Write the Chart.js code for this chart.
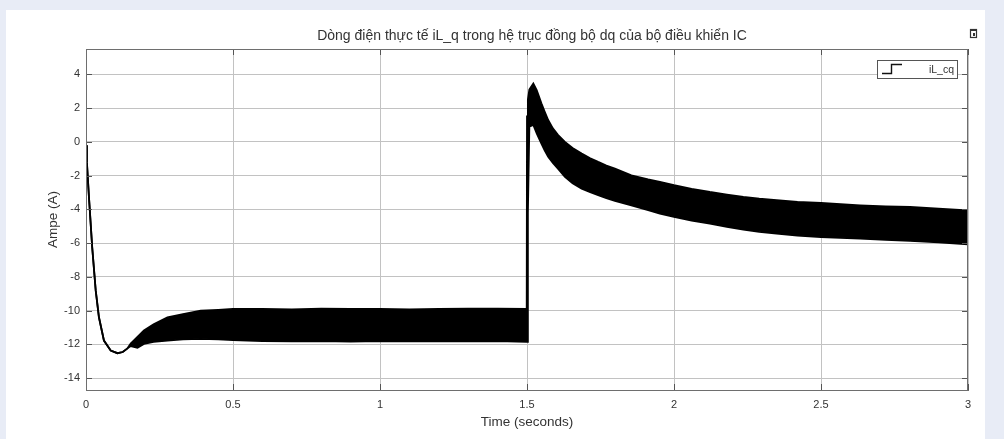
<!DOCTYPE html>
<html>
<head>
<meta charset="utf-8">
<title>iL_q</title>
<script src="https://cdn.jsdelivr.net/npm/chart.js@4.4.1/dist/chart.umd.min.js"></script>
<style>
    html, body { margin: 0; padding: 0; width: 1004px; height: 439px; overflow: hidden; background: #e8ecf6; }
    #panel { position: absolute; left: 6px; top: 10px; width: 979px; height: 429px; background: #ffffff; }
    #iq-chart { position: absolute; left: 0; top: 0; }
</style>
</head>
<body>
<div id="panel"></div>
<canvas id="iq-chart" width="1004" height="439"></canvas>
<script>

// -----------------------
// DATA
// -----------------------

const chartTitle = 'Dòng điện thực tế iL_q trong hệ trục đồng bộ dq của bộ điều khiển IC';
const seriesName = 'iL_cq';
const xAxisTitle = 'Time (seconds)';
const yAxisTitle = 'Ampe (A)';

// time (s) and the upper / lower edge of the ripple band (A)
const timeS = [
    0, 0.003, 0.01, 0.021, 0.033, 0.044, 0.061, 0.084, 0.107, 0.125, 0.14,
    0.152, 0.175, 0.197, 0.23, 0.277, 0.33, 0.39, 0.45, 0.5,
    0.6, 0.7, 0.8, 0.9, 1.0, 1.1, 1.2, 1.3, 1.4, 1.499,
    1.5, 1.503, 1.508, 1.5215, 1.533, 1.549, 1.56, 1.572, 1.588, 1.606, 1.629,
    1.655, 1.686, 1.715, 1.742, 1.77, 1.799, 1.855, 1.912, 1.952, 2.0,
    2.06, 2.122, 2.18, 2.236, 2.29, 2.349, 2.42, 2.5, 2.633, 2.72, 2.803, 2.9, 3.0
];

const iqUpper = [
    -0.2, -1.2, -3.26, -6.23, -8.8, -10.39, -11.77, -12.36, -12.52, -12.45, -12.25,
    -11.95, -11.55, -11.18, -10.8, -10.39, -10.2, -10.0, -9.95, -9.9,
    -9.9, -9.92, -9.88, -9.9, -9.9, -9.92, -9.9, -9.88, -9.88, -9.9,
    1.5, 2.5, 3.1, 3.46, 3.07, 2.28, 1.8, 1.29, 0.8, 0.4, 0.0,
    -0.36, -0.69, -0.97, -1.19, -1.4, -1.58, -1.98, -2.23, -2.37, -2.57,
    -2.78, -2.97, -3.12, -3.26, -3.37, -3.46, -3.55, -3.62, -3.76, -3.82, -3.86, -3.95, -4.06
];

const iqLower = [
    -0.2, -1.2, -3.26, -6.23, -8.8, -10.39, -11.77, -12.36, -12.52, -12.45, -12.25,
    -12.1, -12.2, -11.97, -11.85, -11.77, -11.7, -11.67, -11.7, -11.75,
    -11.8, -11.82, -11.8, -11.83, -11.8, -11.82, -11.8, -11.82, -11.8, -11.85,
    -11.85, -4.2, 0.9, 1.0, 0.5, -0.1, -0.5, -0.89, -1.25, -1.6, -2.08,
    -2.45, -2.77, -2.98, -3.16, -3.34, -3.5, -3.76, -4.05, -4.25, -4.45,
    -4.66, -4.84, -5.03, -5.2, -5.33, -5.44, -5.55, -5.64, -5.73, -5.8, -5.87, -5.96, -6.07
];

const xTickValues = [0, 0.5, 1, 1.5, 2, 2.5, 3];
const xTickLabels = ['0', '0.5', '1', '1.5', '2', '2.5', '3'];
const yTickValues = [4, 2, 0, -2, -4, -6, -8, -10, -12, -14];
const yTickLabels = ['4', '2', '0', '-2', '-4', '-6', '-8', '-10', '-12', '-14'];

document.addEventListener('DOMContentLoaded', () => {

    // -----------------------
    // STYLE
    // -----------------------

    const textColor = '#333333';
    const gridColor = '#c2c2c2';
    const frameColor = '#6e6e6e';
    const fontFamily = '"Liberation Sans", Arial, sans-serif';

    const upperPoints = timeS.map((t, i) => ({ x: t, y: iqUpper[i] }));
    const lowerPoints = timeS.map((t, i) => ({ x: t, y: iqLower[i] }));

    // -----------------------
    // PLUGINS
    // -----------------------

    // box around the axes, inward tick marks, title, legend and dock icon
    const scopeDecor = {
        id: 'scopeDecor',
        afterDraw(chart){
            const ctx = chart.ctx;
            const area = chart.chartArea;
            const xs = chart.scales.x;
            const ys = chart.scales.y;

            ctx.save();

            // inward ticks
            ctx.strokeStyle = '#555555';
            ctx.lineWidth = 1;
            ctx.beginPath();
            xTickValues.forEach(v => {
                const px = Math.round(xs.getPixelForValue(v)) + 0.5;
                ctx.moveTo(px, area.bottom);
                ctx.lineTo(px, area.bottom - 6);
                ctx.moveTo(px, area.top);
                ctx.lineTo(px, area.top + 6);
            });
            yTickValues.forEach(v => {
                const py = Math.round(ys.getPixelForValue(v)) + 0.5;
                ctx.moveTo(area.left, py);
                ctx.lineTo(area.left + 6, py);
                ctx.moveTo(area.right, py);
                ctx.lineTo(area.right - 6, py);
            });
            ctx.stroke();

            // frame
            ctx.strokeStyle = frameColor;
            ctx.strokeRect(Math.round(area.left) + 0.5, Math.round(area.top) + 0.5,
                Math.round(area.right - area.left) - 1, Math.round(area.bottom - area.top));

            // title
            ctx.fillStyle = textColor;
            ctx.font = '14px ' + fontFamily;
            ctx.textAlign = 'center';
            ctx.textBaseline = 'middle';
            ctx.fillText(chartTitle, (area.left + area.right) / 2 + 5, 36);

            // legend box
            const lx = area.right - 91, ly = area.top + 11, lw = 80, lh = 18;
            ctx.fillStyle = '#ffffff';
            ctx.fillRect(lx, ly, lw, lh);
            ctx.strokeStyle = '#555555';
            ctx.strokeRect(lx + 0.5, ly + 0.5, lw, lh);

            ctx.strokeStyle = '#111111';
            ctx.lineWidth = 1.4;
            ctx.beginPath();
            ctx.moveTo(lx + 5, ly + 13.5);
            ctx.lineTo(lx + 14.5, ly + 13.5);
            ctx.lineTo(lx + 14.5, ly + 4.5);
            ctx.lineTo(lx + 25, ly + 4.5);
            ctx.stroke();

            ctx.fillStyle = textColor;
            ctx.font = '10.5px ' + fontFamily;
            ctx.textAlign = 'right';
            ctx.fillText(seriesName, lx + lw - 3, ly + 10);

            // undock icon
            ctx.strokeStyle = '#333333';
            ctx.lineWidth = 1.2;
            ctx.strokeRect(970.5, 29.5, 6, 8);
            ctx.fillStyle = '#333333';
            ctx.fillRect(970, 29, 7, 2);
            ctx.fillRect(973, 33, 2, 3);

            ctx.restore();
        }
    };

    // -----------------------
    // CHART
    // -----------------------

    const ctx = document.getElementById('iq-chart').getContext('2d');

    new Chart(ctx, {
        type: 'line',
        data: {
            datasets: [
                {
                    label: seriesName,
                    data: upperPoints,
                    borderColor: '#000000',
                    backgroundColor: '#000000',
                    borderWidth: 1.8,
                    pointRadius: 0,
                    tension: 0,
                    fill: '+1'
                },
                {
                    label: seriesName + ' (min)',
                    data: lowerPoints,
                    borderColor: '#000000',
                    backgroundColor: '#000000',
                    borderWidth: 1.8,
                    pointRadius: 0,
                    tension: 0,
                    fill: false
                }
            ]
        },
        options: {
            responsive: false,
            animation: false,
            layout: { padding: { top: 49, right: 36, bottom: 0, left: 0 } },
            plugins: {
                legend: { display: false },
                title: { display: false },
                tooltip: { enabled: false }
            },
            scales: {
                x: {
                    type: 'linear',
                    min: 0,
                    max: 3,
                    afterBuildTicks: s => { s.ticks = xTickValues.map(v => ({ value: v })); },
                    afterFit: s => { s.height = 49; },
                    grid: { color: gridColor, drawTicks: false },
                    border: { color: frameColor },
                    ticks: {
                        padding: 8,
                        color: textColor,
                        font: { size: 11, family: fontFamily },
                        callback: (v, i) => xTickLabels[i]
                    },
                    title: {
                        display: true,
                        text: xAxisTitle,
                        color: textColor,
                        font: { size: 13.5, family: fontFamily },
                        padding: { top: 0, bottom: 9 }
                    }
                },
                y: {
                    type: 'linear',
                    min: -14.7,
                    max: 5.5,
                    afterBuildTicks: s => { s.ticks = yTickValues.map(v => ({ value: v })); },
                    afterFit: s => { s.width = 86; },
                    grid: { color: gridColor, drawTicks: false },
                    border: { color: frameColor },
                    ticks: {
                        padding: 6,
                        color: textColor,
                        font: { size: 11, family: fontFamily },
                        callback: (v, i) => yTickLabels[i]
                    },
                    title: {
                        display: true,
                        text: yAxisTitle,
                        color: textColor,
                        font: { size: 13.5, family: fontFamily },
                        padding: { top: 45, bottom: 0 }
                    }
                }
            }
        },
        plugins: [scopeDecor]
    });

});
</script>
</body>
</html>
